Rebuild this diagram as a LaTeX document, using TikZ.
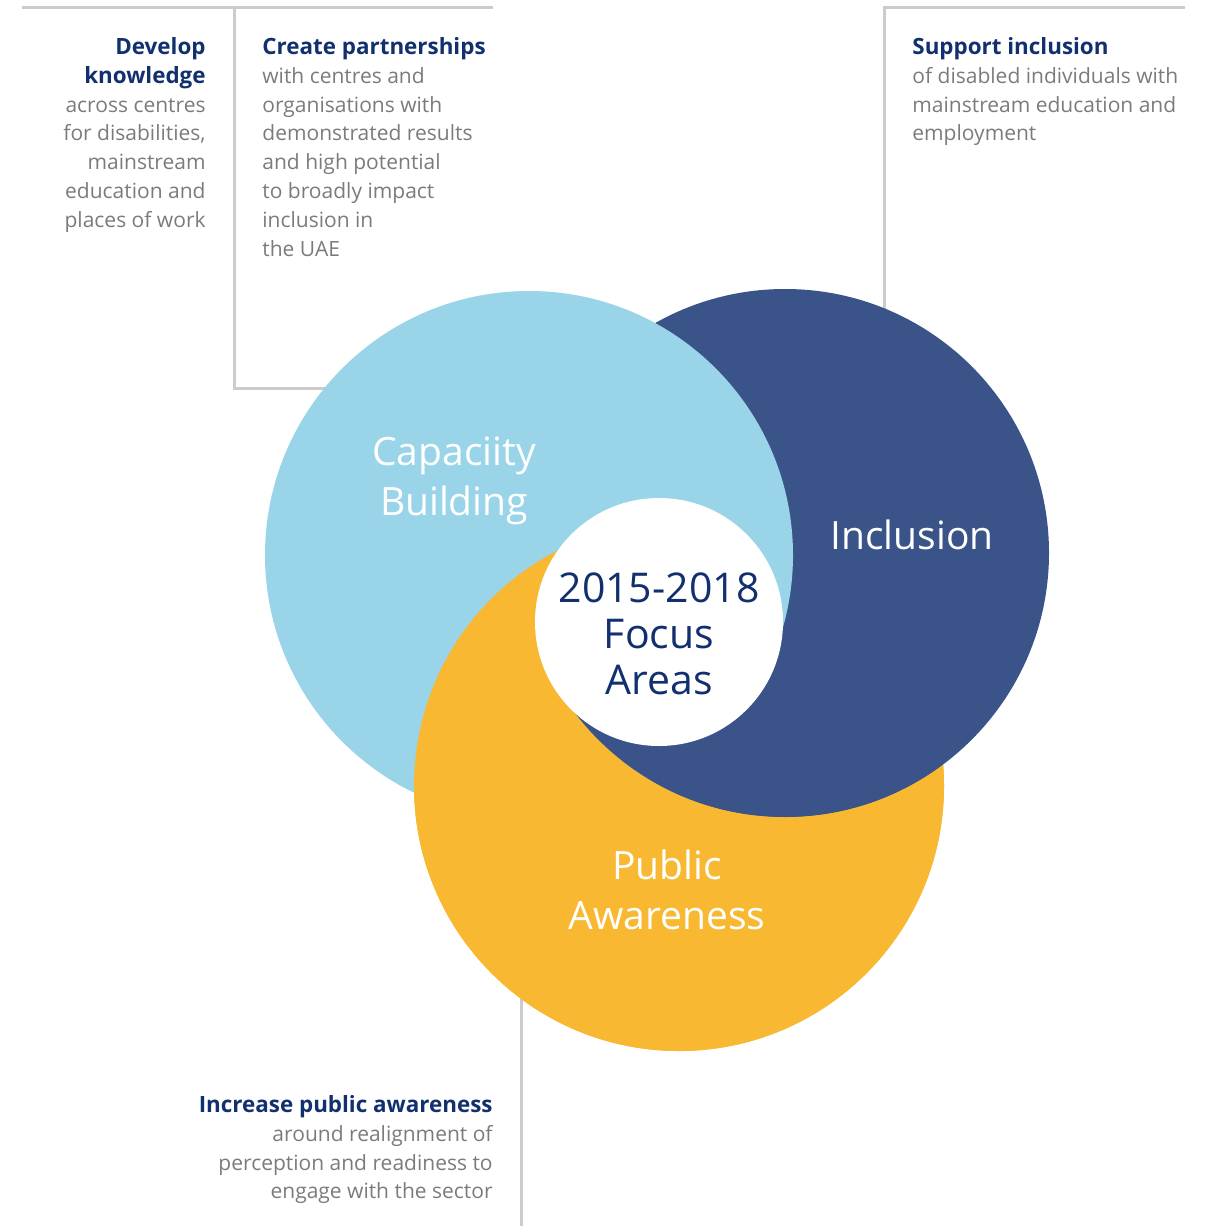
\documentclass[tikz,border=0pt]{standalone}
\usepackage{fontspec}
\setmainfont{Open Sans}
\usetikzlibrary{positioning}
\definecolor{mSky}{HTML}{9AD4E8}
\definecolor{mNavy}{HTML}{3A5388}
\definecolor{mGold}{HTML}{F8B832}
\definecolor{mInk}{HTML}{12306E}
\definecolor{mText}{HTML}{7B7B7B}
\definecolor{mRule}{HTML}{CCCCCC}
\tikzset{
  guide/.style={mRule, line width=1.5pt},
  blurb/.style={inner sep=0pt, text=mText, font=\fontsize{10.5}{14.4}\selectfont},
  ringlabel/.style={align=center, text=white, font=\fontsize{19.5}{25}\selectfont},
}
\newcommand{\headline}[1]{{\fontsize{11.2}{14.4}\selectfont\bfseries\color{mInk}#1}}

\begin{document}
\begin{tikzpicture}[x=0.5pt, y=-0.5pt]
    \useasboundingbox (0,0) rectangle (1217,1226);
    % guide rules behind the rings
    \coordinate (tlStart) at (22,7);
    \coordinate (tlEnd) at (493,7);
    \coordinate (tlTop) at (234,7);
    \coordinate (tlBend) at (234,388);
    \coordinate (tlFoot) at (420,388);
    \coordinate (trTop) at (884,7);
    \coordinate (trEnd) at (1185,7);
    \coordinate (trFoot) at (884,420);
    \coordinate (btTop) at (521,900);
    \coordinate (btFoot) at (521,1226);
    \draw[guide] (tlStart) -- (tlEnd);
    \draw[guide] (tlTop) -- (tlBend) -- (tlFoot);
    \draw[guide] (trFoot) -- (trTop) -- (trEnd);
    \draw[guide] (btTop) -- (btFoot);

    % ring centres
    \coordinate (capC) at (529,555);
    \coordinate (incC) at (785,553);
    \coordinate (pubC) at (679,786);
    \coordinate (focC) at (659,622);

    \fill[mGold] (pubC) circle [radius=265];
    \fill[mNavy] (incC) circle [radius=264];
    \fill[mSky] (capC) circle [radius=264];
    % woven look where the rings cross
    \begin{scope}
      \clip (pubC) circle [radius=265];
      \fill[mGold, even odd rule] (0,0) rectangle (1217,1226) (incC) circle [radius=264];
      \fill[mGold] (focC) -- (300,720) -- (300,300) -- (659,300) -- cycle;
      \clip (incC) circle [radius=264];
      \fill[mNavy] (focC) -- (300,720) -- (300,1000) -- (1000,1000) -- (1000,700) -- cycle;
    \end{scope}
    \fill[white] (focC) circle [radius=124];

    \node[ringlabel] (capLabel) at (454,481) {Capaciity\\Building};
    \node[ringlabel] (incLabel) at (912,535) {Inclusion};
    \node[ringlabel] (pubLabel) at (667,890) {Public\\Awareness};
    \node[align=center, text=mInk, font=\fontsize{20.5}{23}\selectfont] (focLabel) at (659,634)
      {2015-2018\\Focus\\Areas};

    \node[blurb, align=right, anchor=north east] (devText) at (206,37)
      {\headline{Develop}\\\headline{knowledge}\\across centres\\for disabilities,\\mainstream\\education and\\places of work};
    \node[blurb, align=left, anchor=north west] (partText) at (262,37)
      {\headline{Create partnerships}\\with centres and\\organisations with\\demonstrated results\\and high potential\\to broadly impact\\inclusion in\\the UAE};
    \node[blurb, align=left, anchor=north west] (supText) at (912,37)
      {\headline{Support inclusion}\\of disabled individuals with\\mainstream education and\\employment};
    \node[blurb, align=right, anchor=north east] (awText) at (493,1095)
      {\headline{Increase public awareness}\\around realignment of\\perception and readiness to\\engage with the sector};
\end{tikzpicture}
\end{document}
